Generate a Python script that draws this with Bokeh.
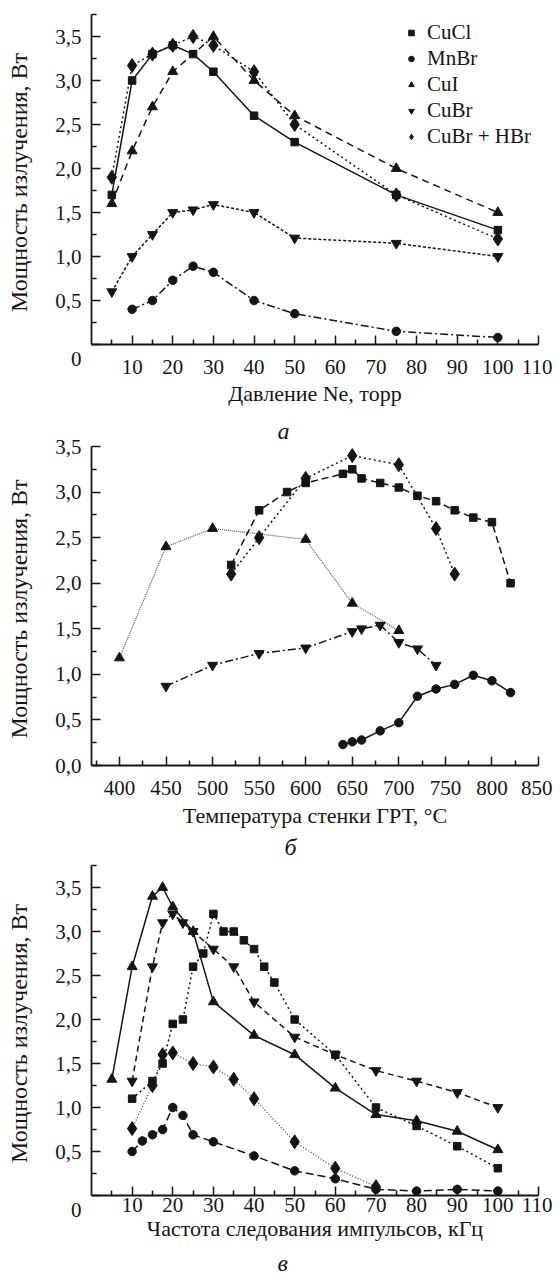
from bokeh.plotting import figure
from bokeh.models import FixedTicker, CustomJSTickFormatter, Legend, LegendItem, Title
from bokeh.layouts import column
from bokeh.embed import file_html
from bokeh.resources import INLINE

FONT = "Liberation Serif"
INK = "#151515"

# ---------------- data: panel a (pressure of Ne, torr) ----------------
a_cucl_x = [5, 10, 15, 20, 25, 30, 40, 50, 75, 100]
a_cucl_y = [1.7, 3.0, 3.3, 3.4, 3.3, 3.1, 2.6, 2.3, 1.7, 1.3]
a_mnbr_x = [10, 15, 20, 25, 30, 40, 50, 75, 100]
a_mnbr_y = [0.4, 0.5, 0.73, 0.89, 0.82, 0.5, 0.35, 0.15, 0.08]
a_cui_x = [5, 10, 15, 20, 30, 40, 50, 75, 100]
a_cui_y = [1.6, 2.2, 2.7, 3.1, 3.5, 3.0, 2.6, 2.0, 1.5]
a_cubr_x = [5, 10, 15, 20, 25, 30, 40, 50, 75, 100]
a_cubr_y = [0.6, 1.0, 1.25, 1.5, 1.53, 1.59, 1.5, 1.21, 1.15, 1.0]
a_hbr_x = [5, 10, 15, 20, 25, 30, 40, 50, 75, 100]
a_hbr_y = [1.9, 3.17, 3.3, 3.4, 3.5, 3.4, 3.1, 2.5, 1.7, 1.2]

# ---------------- data: panel b (wall temperature, C) ----------------
b_cucl_x = [520, 550, 580, 600, 640, 650, 660, 680, 700, 720, 740, 760, 780, 800, 820]
b_cucl_y = [2.2, 2.8, 3.0, 3.1, 3.2, 3.25, 3.15, 3.1, 3.05, 2.96, 2.9, 2.8, 2.72, 2.67, 2.0]
b_hbr_x = [520, 550, 600, 650, 700, 740, 760]
b_hbr_y = [2.1, 2.5, 3.15, 3.4, 3.3, 2.6, 2.1]
b_cui_x = [400, 450, 500, 600, 650, 700]
b_cui_y = [1.18, 2.4, 2.6, 2.48, 1.78, 1.48]
b_cubr_x = [450, 500, 550, 600, 650, 660, 680, 700, 720, 740]
b_cubr_y = [0.87, 1.1, 1.23, 1.29, 1.47, 1.5, 1.54, 1.35, 1.28, 1.1]
b_mnbr_x = [640, 650, 660, 680, 700, 720, 740, 760, 780, 800, 820]
b_mnbr_y = [0.23, 0.26, 0.28, 0.38, 0.47, 0.76, 0.84, 0.89, 0.99, 0.93, 0.8]

# ---------------- data: panel c (pulse repetition rate, kHz) ----------------
c_cui_x = [5, 10, 15, 17.5, 20, 25, 30, 40, 50, 60, 70, 80, 90, 100]
c_cui_y = [1.32, 2.6, 3.4, 3.5, 3.28, 3.0, 2.2, 1.82, 1.6, 1.22, 0.92, 0.85, 0.73, 0.52]
c_cubr_x = [10, 15, 17.5, 20, 22.5, 25, 30, 35, 40, 50, 60, 70, 80, 90, 100]
c_cubr_y = [1.3, 2.6, 3.1, 3.2, 3.1, 3.0, 2.8, 2.6, 2.2, 1.8, 1.6, 1.42, 1.3, 1.17, 1.0]
c_cucl_x = [10, 15, 17.5, 20, 22.5, 25, 27.5, 30, 32.5, 35, 37.5, 40, 42.5, 45, 50, 60, 70, 80, 90, 100]
c_cucl_y = [1.1, 1.3, 1.5, 1.95, 2.0, 2.6, 2.75, 3.2, 3.0, 3.0, 2.9, 2.8, 2.6, 2.42, 2.0, 1.6, 1.0, 0.79, 0.56, 0.31]
c_hbr_x = [10, 15, 17.5, 20, 25, 30, 35, 40, 50, 60, 70]
c_hbr_y = [0.76, 1.25, 1.6, 1.62, 1.5, 1.46, 1.32, 1.1, 0.61, 0.31, 0.1]
c_mnbr_x = [10, 12.5, 15, 17.5, 20, 22.5, 25, 30, 40, 50, 60, 70, 80, 90, 100]
c_mnbr_y = [0.5, 0.62, 0.69, 0.75, 1.0, 0.91, 0.69, 0.61, 0.45, 0.28, 0.19, 0.07, 0.05, 0.07, 0.05]

legend_labels = ["CuCl", "MnBr", "CuI", "CuBr", "CuBr + HBr"]

ytitle = "Мощность излучения,  Вт"
xtitle_a = "Давление Ne, торр"
xtitle_b = "Температура стенки ГРТ, °C"
xtitle_c = "Частота следования импульсов, кГц"

x110 = list(range(10, 111, 10))
x110m = list(range(5, 110, 10))
y35 = [0.0, 0.5, 1.0, 1.5, 2.0, 2.5, 3.0, 3.5]
y35m = [0.25, 0.75, 1.25, 1.75, 2.25, 2.75, 3.25, 3.75]
xb = list(range(400, 851, 50))
xbm = list(range(375, 850, 50))
yb = [0.0, 0.5, 1.0, 1.5, 2.0, 2.5, 3.0, 3.5]
ybm = [0.25, 0.75, 1.25, 1.75, 2.25, 2.75, 3.25]

# the origin is marked by a lone "0" set slightly below the axis (panels a and c)
Y_ORIGIN_CODE = "if (Math.abs(tick) < 1e-9) { return '\\n0'; } return tick.toFixed(1).replace('.', ',');"
Y_PLAIN_CODE = "return tick.toFixed(1).replace('.', ',');"

TICK_PX = "21px"
LABEL_PX = "22px"


def make_fig(xr, yr, fh, top, bottom, xt, xmt, yt, ymt, xlabel,
             x_standoff, xl_standoff, ycode):
    p = figure(frame_width=447, frame_height=fh, x_range=xr, y_range=yr,
               output_backend="svg", toolbar_location=None,
               min_border_left=91, min_border_right=14,
               min_border_top=top, min_border_bottom=bottom)
    p.xgrid.visible = False
    p.ygrid.visible = False
    p.outline_line_color = None
    p.xaxis.ticker = FixedTicker(ticks=xt, minor_ticks=xmt)
    p.yaxis.ticker = FixedTicker(ticks=yt, minor_ticks=ymt)
    p.xaxis.formatter = CustomJSTickFormatter(code="return tick.toFixed(0);")
    p.yaxis.formatter = CustomJSTickFormatter(code=ycode)
    for ax in (p.xaxis[0], p.yaxis[0]):
        ax.axis_line_width = 1.8
        ax.axis_line_color = INK
        ax.major_tick_in = 9
        ax.major_tick_out = 0
        ax.minor_tick_in = 5
        ax.minor_tick_out = 0
        ax.major_tick_line_width = 1.5
        ax.minor_tick_line_width = 1.5
        ax.major_tick_line_color = INK
        ax.minor_tick_line_color = INK
        ax.major_label_text_font = FONT
        ax.major_label_text_font_size = TICK_PX
        ax.major_label_text_color = INK
        ax.axis_label_text_font = FONT
        ax.axis_label_text_font_size = LABEL_PX
        ax.axis_label_text_font_style = "normal"
        ax.axis_label_text_color = INK
    p.yaxis.axis_label_text_font_size = "24px"
    p.xaxis.major_label_standoff = x_standoff
    p.xaxis.axis_label_standoff = xl_standoff
    p.yaxis.major_label_standoff = 10
    p.yaxis.axis_label_standoff = 20
    p.xaxis.axis_label = xlabel
    p.yaxis.axis_label = ytitle
    return p


def series(p, x, y, marker, size, dash, lw=1.5, color=INK):
    p.line(x, y, line_color=color, line_width=lw, line_dash=dash)
    return p.scatter(x, y, marker=marker, size=size,
                     fill_color=INK, line_color=INK)


def add_tag(p, text, offset, standoff, side="below"):
    t = Title(text=text, align="left", offset=offset, standoff=standoff,
              text_font=FONT, text_font_size="24px", text_font_style="italic",
              text_color=INK)
    p.add_layout(t, side)


DIA = 14

# ---------------- panel a ----------------
pa = make_fig((0, 110), (0, 3.75), 330, 14, 69, x110, x110m, y35, y35m,
              xtitle_a, 15, 4, Y_ORIGIN_CODE)
r1 = series(pa, a_cucl_x, a_cucl_y, "square", 7.5, "solid")
r2 = series(pa, a_mnbr_x, a_mnbr_y, "circle", 8.5, "8 3 2 3")
r3 = series(pa, a_cui_x, a_cui_y, "triangle", 10, "7 5")
r4 = series(pa, a_cubr_x, a_cubr_y, "inverted_triangle", 10, "3 2")
r5 = series(pa, a_hbr_x, a_hbr_y, "diamond", DIA, "2 3")
leg = Legend(items=[LegendItem(label=l, renderers=[r]) for l, r in
                    zip(legend_labels, [r1, r2, r3, r4, r5])],
             location=(313, 195), padding=0, margin=0, spacing=1,
             glyph_width=14, glyph_height=21, label_height=21, label_standoff=9,
             label_text_font=FONT, label_text_font_size=TICK_PX,
             label_text_color=INK, border_line_color=None,
             background_fill_alpha=0)
pa.add_layout(leg, "center")

# ---------------- panel b ----------------
pb = make_fig((370, 850), (0, 3.5), 319, 33, 93, xb, xbm, yb, ybm,
              xtitle_b, 15, 5, Y_PLAIN_CODE)
series(pb, b_cucl_x, b_cucl_y, "square", 7.5, "7 4")
series(pb, b_mnbr_x, b_mnbr_y, "circle", 8.5, "solid")
series(pb, b_cui_x, b_cui_y, "triangle", 10, "1 1", lw=1.2, color="#555555")
series(pb, b_cubr_x, b_cubr_y, "inverted_triangle", 10, "8 3 2 3")
series(pb, b_hbr_x, b_hbr_y, "diamond", DIA, "2 3")
# caption of panel a, placed in the gap above panel b
add_tag(pb, "а", 186, 5, side="above")
add_tag(pb, "б", 193, 3)

# ---------------- panel c ----------------
pc = make_fig((0, 110), (0, 3.75), 330, 4, 84, x110, x110m, y35, y35m,
              xtitle_c, 2, 1, Y_ORIGIN_CODE)
series(pc, c_cucl_x, c_cucl_y, "square", 7.5, "2 3")
series(pc, c_mnbr_x, c_mnbr_y, "circle", 8.5, "8 4")
series(pc, c_cui_x, c_cui_y, "triangle", 10, "solid")
series(pc, c_cubr_x, c_cubr_y, "inverted_triangle", 10, "6 4")
series(pc, c_hbr_x, c_hbr_y, "diamond", DIA, "1 2", lw=1.3, color="#444444")
add_tag(pc, "в", 186, 8)

layout = column(pa, pb, pc, spacing=0)
open("out.html", "w").write(file_html(layout, INLINE))
